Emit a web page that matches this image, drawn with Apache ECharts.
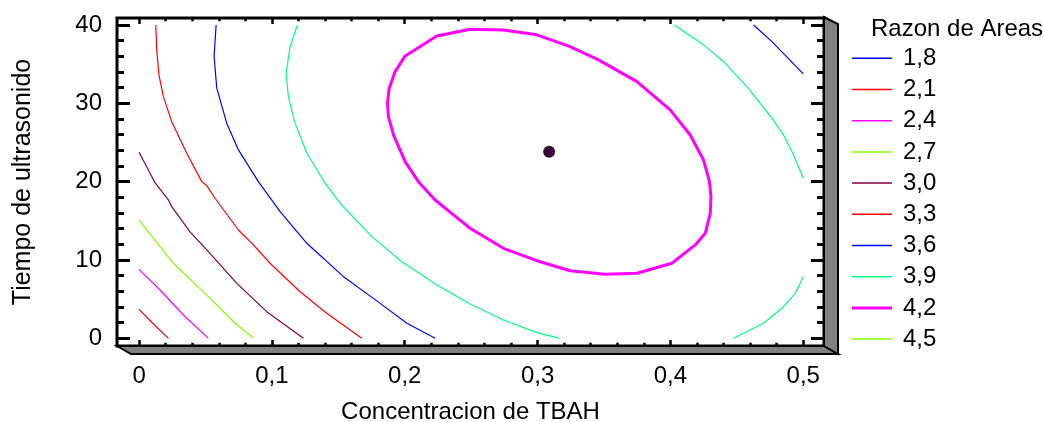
<!DOCTYPE html>
<html>
<head>
<meta charset="utf-8">
<script src="https://cdn.jsdelivr.net/npm/echarts@6/dist/echarts.min.js"></script>
<style>
  html, body { margin: 0; padding: 0; background: #ffffff; }
  #chart { width: 1044px; height: 422px; }
</style>
</head>
<body>
<div id="chart"></div>
<script>
// Contour levels of "Razon de Areas" with their line colours and widths
const levels      = ['1,8', '2,1', '2,4', '2,7', '3,0', '3,3', '3,6', '3,9', '4,2', '4,5'];
const levelColors = ['#0000ff', '#ff0000', '#ff00ff', '#80ff00', '#800040', '#ff0000', '#0000ff', '#00ff80', '#ff00ff', '#80ff00'];
const levelWidths = [1.2, 1.2, 1.2, 1.2, 1.2, 1.2, 1.2, 1.2, 3, 1.2];

// Axis ticks (x: Concentracion de TBAH, y: Tiempo de ultrasonido)
const xTicks = [0, 0.1, 0.2, 0.3, 0.4, 0.5];
const xTickLabels = ['0', '0,1', '0,2', '0,3', '0,4', '0,5'];
const xMinorTicks = [0.02, 0.04, 0.06, 0.08, 0.12, 0.14, 0.16, 0.18, 0.22, 0.24, 0.26, 0.28,
                     0.32, 0.34, 0.36, 0.38, 0.42, 0.44, 0.46, 0.48];
const yTicks = [0, 10, 20, 30, 40];
const yTickLabels = ['0', '10', '20', '30', '40'];
const yMinorTicks = [2, 4, 6, 8, 12, 14, 16, 18, 22, 24, 26, 28, 32, 34, 36, 38];

// Contour lines: [TBAH, tiempo] points
const c21 = [[0, 3.7], [0.0103, 1.92], [0.0221, 0]];
const c24 = [[0, 8.8], [0.0158, 6.17], [0.0334, 2.98], [0.0522, 0]];
const c27 = [[0, 15.1], [0.0258, 9.58], [0.0535, 5.1], [0.0723, 1.92], [0.0861, 0]];
const c30 = [[0, 23.75], [0.012, 19.87], [0.0221, 17.66], [0.0246, 16.81], [0.0384, 13.6], [0.051, 11.28],
             [0.0736, 7.02], [0.0961, 3.4], [0.1237, 0]];
const c33 = [[0.0126, 40], [0.0133, 36.8], [0.015, 33.6], [0.0183, 30.86], [0.0246, 27.66], [0.0359, 23.63],
             [0.0472, 20.0], [0.051, 19.5], [0.0572, 17.88], [0.0748, 13.83], [0.0861, 11.92], [0.0986, 9.58],
             [0.1212, 5.95], [0.1413, 3.19], [0.1677, 0]];
const c36a = [[0.058, 40], [0.0565, 35.97], [0.0585, 31.93], [0.066, 27.46], [0.0748, 24.05], [0.0898, 20.0],
              [0.1062, 16.17], [0.1263, 12.13], [0.1539, 7.87], [0.1764, 5.1], [0.2016, 1.92], [0.2229, 0]];
const c36b = [[0.4626, 40], [0.4764, 37.88], [0.5, 33.76]];
const c39a = [[0.1192, 40], [0.1137, 37.24], [0.1107, 33.84], [0.1124, 30.86], [0.117, 27.66], [0.1263, 23.63],
              [0.14, 19.8], [0.1514, 17.24], [0.1752, 12.98], [0.1978, 9.78], [0.2242, 6.81], [0.2492, 4.38],
              [0.2743, 2.34], [0.2995, 0.72], [0.3165, 0]];
const c39b = [[0.4029, 40], [0.4249, 37.46], [0.44, 35.33], [0.4576, 32.13], [0.4764, 28.1], [0.4852, 25.96],
              [0.4927, 23.41], [0.5, 20.43]];
const c39c = [[0.4475, 0], [0.4701, 1.92], [0.4839, 3.83], [0.494, 5.75], [0.5, 7.87]];
const c42 = [[0.2492, 39.46], [0.2242, 38.6], [0.2003, 36.05], [0.1928, 34.05], [0.1883, 31.93], [0.187, 30.01],
             [0.1877, 28.3], [0.1915, 25.96], [0.2003, 22.55], [0.2103, 20.0], [0.2229, 17.66], [0.2367, 15.75],
             [0.2492, 14.05], [0.2743, 11.49], [0.2995, 9.91], [0.3245, 8.63], [0.3509, 8.17], [0.3748, 8.3],
             [0.4011, 9.58], [0.4187, 11.92], [0.4262, 13.41], [0.43, 15.96], [0.4305, 18.08], [0.4294, 20.0],
             [0.4249, 22.77], [0.4149, 25.96], [0.3998, 29.16], [0.3748, 32.77], [0.3459, 35.54], [0.3245, 37.24],
             [0.2995, 38.74], [0.2743, 39.37], [0.2492, 39.46]];

// Stationary point of the fitted surface
const optimum = [[0.3087, 23.83]];

const segments = [
  ['2,1', c21], ['2,4', c24], ['2,7', c27], ['3,0', c30], ['3,3', c33],
  ['3,6', c36a], ['3,6', c36b], ['3,9', c39a], ['3,9', c39b], ['3,9', c39c], ['4,2', c42]
];

const FONT = "'Liberation Sans', Arial, sans-serif";
const X_MIN = -0.0166, X_MAX = 0.5156;
const Y_MIN = -0.98, Y_MAX = 40.89;

function fmt(ticks, labels) {
  return function (v) {
    for (let i = 0; i < ticks.length; i++) {
      if (Math.abs(ticks[i] - v) < 1e-9) return labels[i];
    }
    return '';
  };
}

function tickAxis(kind, gridIndex, position, values, len, width, extra) {
  const ax = {
    type: 'value', gridIndex: gridIndex, position: position,
    min: kind === 'x' ? X_MIN : Y_MIN, max: kind === 'x' ? X_MAX : Y_MAX,
    axisLine: { show: false, onZero: false },
    splitLine: { show: false },
    axisTick: { show: true, inside: true, length: len, customValues: values,
                lineStyle: { color: '#000', width: width } },
    axisLabel: { show: false }
  };
  return Object.assign(ax, extra || {});
}

// Line series, one per contour piece
const series = [];
levels.forEach(function (lv, i) {
  segments.filter(function (s) { return s[0] === lv; }).forEach(function (p) {
    series.push({
      name: lv, type: 'line', xAxisIndex: 0, yAxisIndex: 0,
      data: p[1], symbol: 'none', smooth: false, animation: false,
      lineStyle: { color: levelColors[i], width: levelWidths[i] }
    });
  });
});
series.push({
  name: 'optimo', type: 'scatter', xAxisIndex: 0, yAxisIndex: 0,
  data: optimum, symbolSize: 12, animation: false,
  itemStyle: { color: '#3a0a3a', opacity: 1 }
});

// Legend: a short line sample and label for each level
const legendLeft = 852, legendTop = 58.3, legendStep = 31.2;
const legendGraphics = [];
levels.forEach(function (lv, i) {
  const y = legendTop + i * legendStep;
  legendGraphics.push({
    type: 'line', shape: { x1: legendLeft, y1: y, x2: legendLeft + 40, y2: y },
    style: { stroke: levelColors[i], lineWidth: levelWidths[i] === 3 ? 3 : 1.5 }
  });
  legendGraphics.push({
    type: 'text', x: legendLeft + 51, y: y,
    style: { text: lv, fill: '#000', font: '24px ' + FONT, textAlign: 'left', textVerticalAlign: 'middle' }
  });
});

const gridBox = { left: 117, top: 18, width: 707, height: 328, outerBoundsMode: 'none', containLabel: false };

const option = {
  backgroundColor: '#ffffff',
  animation: false,
  textStyle: { fontFamily: FONT },
  title: {
    text: 'Razon de Areas', left: 866, top: 12,
    textStyle: { fontFamily: FONT, fontSize: 24, fontWeight: 'normal', color: '#000' }
  },
  grid: [
    Object.assign({ show: true, borderColor: '#000', borderWidth: 3, backgroundColor: '#fff' }, gridBox),
    Object.assign({ show: false }, gridBox)
  ],
  xAxis: [
    tickAxis('x', 0, 'bottom', xTicks, 6, 2.5, {
      axisLabel: { show: true, customValues: xTicks, formatter: fmt(xTicks, xTickLabels), margin: 18,
                   fontFamily: FONT, fontSize: 24, color: '#000' },
      name: 'Concentracion de TBAH', nameLocation: 'middle', nameGap: 54,
      nameTextStyle: { fontFamily: FONT, fontSize: 24, color: '#000' }
    }),
    tickAxis('x', 0, 'top', xTicks, 6, 2.5),
    tickAxis('x', 1, 'bottom', xMinorTicks, 3.3, 2.5),
    tickAxis('x', 1, 'top', xMinorTicks, 3.3, 2.5)
  ],
  yAxis: [
    tickAxis('y', 0, 'left', yTicks, 13, 3, {
      axisLabel: { show: true, customValues: yTicks, formatter: fmt(yTicks, yTickLabels), margin: 15,
                   fontFamily: FONT, fontSize: 24, color: '#000' },
      name: 'Tiempo de ultrasonido', nameLocation: 'middle', nameGap: 81,
      nameTextStyle: { fontFamily: FONT, fontSize: 25, color: '#000' }
    }),
    tickAxis('y', 0, 'right', yTicks, 13, 3),
    tickAxis('y', 1, 'left', yMinorTicks, 7, 3),
    tickAxis('y', 1, 'right', yMinorTicks, 7, 3)
  ],
  graphic: [
    { type: 'polygon', z: 10, shape: { points: [[117, 346], [131, 354], [838, 354], [824, 346]] },
      style: { fill: '#808080', stroke: '#000', lineWidth: 2 } },
    { type: 'polygon', z: 10, shape: { points: [[824, 17], [838, 24], [838, 354], [824, 346]] },
      style: { fill: '#808080', stroke: '#000', lineWidth: 2 } }
  ].concat(legendGraphics),
  series: series
};

const chart = echarts.init(document.getElementById('chart'), null, { renderer: 'canvas' });
chart.setOption(option);
</script>
</body>
</html>
